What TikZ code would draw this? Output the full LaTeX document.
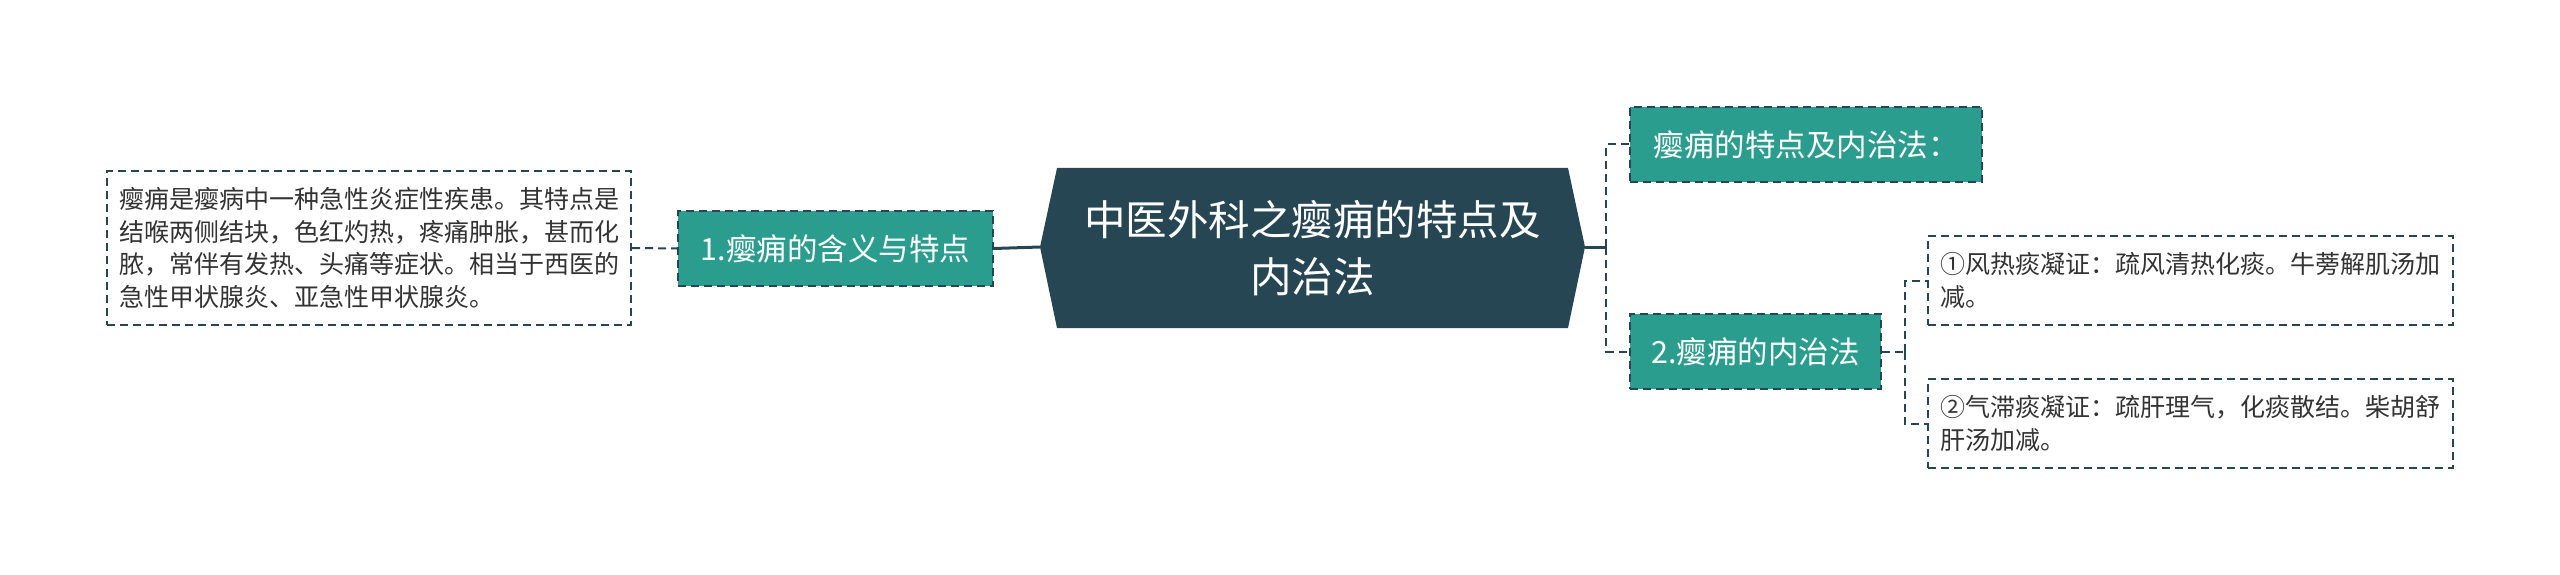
\documentclass[tikz,border=0pt]{standalone}
\usepackage{fontspec}
\setmainfont{Noto Sans CJK SC}
\newfontfamily\cjkfont{Noto Sans CJK SC}
\definecolor{dark}{RGB}{38,70,83}
\definecolor{teal}{RGB}{42,157,143}
\definecolor{txt}{RGB}{51,51,51}
\tikzset{
  dline/.style={draw=dark,line width=2pt,dash pattern=on 8pt off 5pt},
  sline/.style={draw=dark,line width=3pt},
  leafbox/.style={draw=dark,line width=2pt,dash pattern=on 8pt off 5pt,fill=white,
    text=txt,align=left,inner sep=0pt,anchor=center,
    font=\cjkfont\fontsize{25}{32.5}\selectfont},
  subbox/.style={draw=dark,line width=2pt,dash pattern=on 8pt off 5pt,fill=teal,
    text=white,align=center,inner sep=0pt,anchor=center,
    font=\cjkfont\fontsize{30.5}{36}\selectfont},
  roottext/.style={text=white,align=center,inner sep=0pt,
    font=\cjkfont\fontsize{41.5}{57}\selectfont}
}
\begin{document}
\begin{tikzpicture}[x=1pt,y=-1pt]
\useasboundingbox (0,0) rectangle (2560,575);
% central hexagon
\fill[dark] (1040,247) -- (1057,168) -- (1568,168) -- (1585,247) -- (1568,328) -- (1057,328) -- cycle;
\coordinate (rootW) at (1040,247);
\coordinate (rootE) at (1585,247);
\node[roottext] (root) at (1312.5,248) {中医外科之瘿痈的特点及\\内治法};
% left branch
\node[subbox,minimum width=315pt,minimum height=75pt] (s1) at (835.5,248.5) {1.瘿痈的含义与特点};
\node[leafbox,minimum width=524pt,minimum height=154pt,text width=500pt] (l1) at (369,248)
  {瘿痈是瘿病中一种急性炎症性疾患。其特点是\\结喉两侧结块，色红灼热，疼痛肿胀，甚而化\\脓，常伴有发热、头痛等症状。相当于西医的\\急性甲状腺炎、亚急性甲状腺炎。};
% right branch
\node[subbox,minimum width=352pt,minimum height=75pt] (s2) at (1806,144.5) {瘿痈的特点及内治法：};
\node[subbox,minimum width=251pt,minimum height=75pt] (s3) at (1755.5,351.5) {2.瘿痈的内治法};
\node[leafbox,minimum width=525pt,minimum height=89pt,text width=501pt] (l2) at (2190.5,280.5)
  {①风热痰凝证：疏风清热化痰。牛蒡解肌汤加\\减。};
\node[leafbox,minimum width=525pt,minimum height=89pt,text width=501pt] (l3) at (2190.5,423.5)
  {②气滞痰凝证：疏肝理气，化痰散结。柴胡舒\\肝汤加减。};
% connectors
\coordinate (jR) at (1606,247);
\coordinate (j2) at (1905,351.5);
\draw[dline] (l1.east) -- (s1.west);
\draw[sline] (s1.east) -- (rootW);
\draw[sline] (rootE) -- (jR);
\draw[dline] (jR) |- (s2.west);
\draw[dline] (jR) |- (s3.west);
\draw[dline] (s3.east) -- (j2);
\draw[dline] (j2) |- (l2.west);
\draw[dline] (j2) |- (l3.west);
\end{tikzpicture}
\end{document}
